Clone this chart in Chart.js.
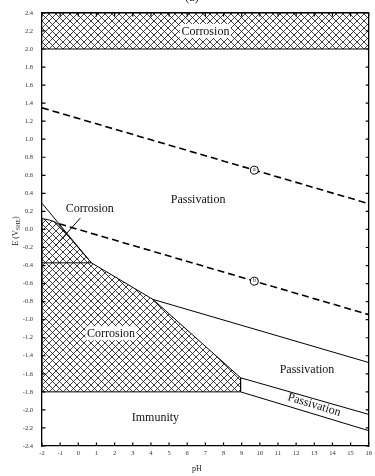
<!DOCTYPE html>
<html>
<head>
<meta charset="utf-8">
<script src="https://cdn.jsdelivr.net/npm/chart.js@4.4.1/dist/chart.umd.min.js"></script>
<style>
html, body {margin: 0; padding: 0; background: #fff;}
#wrap {width: 375px; height: 476px; position: relative;}
</style>
</head>
<body>
<div id="wrap"><canvas id="myChart"></canvas></div>
<script>
// axis ticks
const phTicks = [-2, -1, 0, 1, 2, 3, 4, 5, 6, 7, 8, 9, 10, 11, 12, 13, 14, 15, 16]
const eTicks = [2.4, 2.2, 2.0, 1.8, 1.6, 1.4, 1.2, 1.0, 0.8, 0.6, 0.4, 0.2, 0.0,
    -0.2, -0.4, -0.6, -0.8, -1.0, -1.2, -1.4, -1.6, -1.8, -2.0, -2.2, -2.4]

// hatched corrosion zones
const bandPH = [-2, 16, 16, -2]
const bandE = [2.0, 2.0, 2.4, 2.4]
const corrPH = [-2, -2, -1.6, -1.3, -1.1, 0.72, 4.11, 8.94, 8.94, -2]
const corrE = [-1.8, 0.12, 0.105, 0.085, 0.055, -0.37, -0.775, -1.644, -1.8, -1.8]

// boundary lines
const steepPH = [-2, 0.72]
const steepE = [0.29, -0.37]
const flatPH = [-2, 0.72]
const flatE = [-0.37, -0.37]
const passPH = [4.11, 16]
const passE = [-0.775, -1.475]
const bandTopPH = [8.94, 16]
const bandTopE = [-1.644, -2.05]
const bandBotPH = [8.94, 16]
const bandBotE = [-1.8, -2.23]

// water lines (a) and (b)
const waterAPH = [-2, 16]
const waterAE = [1.348, 0.286]
const waterBPH = [-1.05, 16]
const waterBE = [0.062, -0.944]
const markPH = [9.7, 9.7]
const markE = [0.657, -0.573]
const markText = ['a', 'b']

// leader for the small corrosion label
const leaderPH = [0.11, -1.25]
const leaderE = [0.126, -0.18]

// region labels
const regionText = ['Corrosion', 'Passivation', 'Corrosion', 'Corrosion', 'Passivation', 'Passivation', 'Immunity']
const regionPH = [7.0, 6.6, 0.63, 1.8, 12.6, 13.0, 4.25]
const regionE = [2.2, 0.33, 0.236, -1.15, -1.548, -1.94, -2.082]
const regionBox = [true, false, false, true, false, false, false]

const SERIF = '"Liberation Serif", "Times New Roman", serif'

const pts = (xs, ys) => xs.map((v, i) => ({x: v, y: ys[i]}))

// cross hatch
const tile = document.createElement('canvas')
tile.width = 7
tile.height = 7
const tc = tile.getContext('2d')
tc.strokeStyle = '#111'
tc.lineWidth = 0.8
tc.beginPath()
tc.moveTo(0, 0); tc.lineTo(7, 7)
tc.moveTo(7, 0); tc.lineTo(0, 7)
tc.stroke()
const hatch = tc.createPattern(tile, 'repeat')

const line = (xs, ys, extra) => Object.assign({
    data: pts(xs, ys),
    showLine: true,
    borderColor: '#000',
    borderWidth: 1,
    pointRadius: 0,
    fill: false,
    order: 2
}, extra || {})

const inTicks = {
    id: 'inTicks',
    afterDraw(chart) {
        const {ctx, chartArea: a, scales: {x, y}} = chart
        ctx.save()
        ctx.strokeStyle = '#000'
        ctx.lineWidth = 1.2
        ctx.beginPath()
        phTicks.forEach(v => {
            const px = x.getPixelForValue(v)
            ctx.moveTo(px, a.bottom); ctx.lineTo(px, a.bottom - 3.5)
            ctx.moveTo(px, a.top); ctx.lineTo(px, a.top + 3.5)
        })
        eTicks.forEach(v => {
            const py = y.getPixelForValue(v)
            ctx.moveTo(a.left, py); ctx.lineTo(a.left + 3.5, py)
            ctx.moveTo(a.right, py); ctx.lineTo(a.right - 3, py)
        })
        ctx.stroke()

        // axis titles
        ctx.fillStyle = '#222'
        ctx.textBaseline = 'middle'
        ctx.textAlign = 'center'
        ctx.font = '8px ' + SERIF
        ctx.fillText('pH', 197, 469)

        ctx.translate(16, 231)
        ctx.rotate(-Math.PI / 2)
        ctx.textAlign = 'left'
        const big = '8px ' + SERIF, small = '6px ' + SERIF
        ctx.font = big
        const w1 = ctx.measureText('E (V').width, w3 = ctx.measureText(')').width
        ctx.font = small
        const w2 = ctx.measureText('SHE').width
        let sx = -(w1 + w2 + w3) / 2
        ctx.font = big
        ctx.fillText('E (V', sx, 0)
        ctx.font = small
        ctx.fillText('SHE', sx + w1, 2)
        ctx.font = big
        ctx.fillText(')', sx + w1 + w2, 0)
        ctx.restore()

        // caption above the frame, cut by the page edge
        ctx.save()
        ctx.fillStyle = '#222'
        ctx.font = '12px ' + SERIF
        ctx.textAlign = 'center'
        ctx.textBaseline = 'alphabetic'
        ctx.fillText('(a)', 192, 0.5)
        ctx.restore()
    }
}

const notes = {
    id: 'notes',
    afterDatasetsDraw(chart) {
        const {ctx, scales: {x, y}} = chart
        const ang = Math.atan2(y.getPixelForValue(bandBotE[1]) - y.getPixelForValue(bandBotE[0]),
            x.getPixelForValue(bandBotPH[1]) - x.getPixelForValue(bandBotPH[0]))
        ctx.save()
        ctx.textAlign = 'center'
        ctx.textBaseline = 'middle'
        ctx.font = '12px ' + SERIF
        regionText.forEach((t, i) => {
            ctx.save()
            ctx.translate(x.getPixelForValue(regionPH[i]), y.getPixelForValue(regionE[i]))
            if (i === 5) ctx.rotate(ang)
            if (regionBox[i]) {
                const w = ctx.measureText(t).width
                ctx.fillStyle = '#fff'
                ctx.fillRect(-w / 2 - 1.5, -7, w + 3, 14)
            }
            ctx.fillStyle = '#111'
            ctx.fillText(t, 0, 0.5)
            ctx.restore()
        })
        ctx.font = '6px ' + SERIF
        ctx.fillStyle = '#111'
        markText.forEach((t, i) => {
            ctx.fillText(t, x.getPixelForValue(markPH[i]), y.getPixelForValue(markE[i]) - 0.5)
        })
        ctx.restore()
    }
}

const ctx = document.getElementById('myChart')
let myChart = new Chart(ctx, {
    type: 'scatter',
    data: {
        datasets: [
            line(bandPH, bandE, {fill: 'shape', backgroundColor: hatch, order: 5}),
            line(corrPH, corrE, {fill: 'shape', backgroundColor: hatch, order: 5}),
            line(steepPH, steepE),
            line(flatPH, flatE),
            line(passPH, passE),
            line(bandTopPH, bandTopE),
            line(bandBotPH, bandBotE),
            line(waterAPH, waterAE, {borderDash: [7, 4], borderWidth: 1.6}),
            line(waterBPH, waterBE, {borderDash: [7, 4], borderWidth: 1.6}),
            line(leaderPH, leaderE),
            {
                data: pts(markPH, markE),
                showLine: false,
                pointRadius: 4,
                pointBackgroundColor: '#fff',
                pointBorderColor: '#000',
                pointBorderWidth: 1,
                order: 0
            }
        ]
    },
    options: {
        responsive: true,
        maintainAspectRatio: false,
        animation: false,
        events: [],
        layout: {padding: 0},
        plugins: {legend: {display: false}, tooltip: {enabled: false}},
        scales: {
            x: {
                type: 'linear', position: 'bottom', min: -2, max: 16,
                afterBuildTicks: s => { s.ticks = phTicks.map(v => ({value: v})) },
                afterFit: s => { s.height = 30 },
                grid: {display: false, drawTicks: false},
                border: {display: true, color: '#000', width: 1.3},
                ticks: {autoSkip: false, maxRotation: 0, padding: 3, color: '#333',
                    font: {family: SERIF, size: 6.5}}
            },
            x2: {
                type: 'linear', position: 'top', min: -2, max: 16,
                afterFit: s => { s.height = 11 },
                grid: {display: false, drawTicks: false},
                border: {display: true, color: '#000', width: 1.3},
                ticks: {display: false}
            },
            y: {
                type: 'linear', position: 'left', min: -2.4, max: 2.4,
                afterBuildTicks: s => { s.ticks = eTicks.map(v => ({value: v})) },
                afterFit: s => { s.width = 42 },
                grid: {display: false, drawTicks: false},
                border: {display: true, color: '#000', width: 1.3},
                ticks: {autoSkip: false, padding: 9, color: '#333',
                    font: {family: SERIF, size: 6.5},
                    callback: v => (Math.abs(v) < 1e-9 ? 0 : v).toFixed(1)}
            },
            y2: {
                type: 'linear', position: 'right', min: -2.4, max: 2.4,
                afterFit: s => { s.width = 6 },
                grid: {display: false, drawTicks: false},
                border: {display: true, color: '#000', width: 1.3},
                ticks: {display: false}
            }
        }
    },
    plugins: [notes, inTicks]
})
</script>
</body>
</html>
